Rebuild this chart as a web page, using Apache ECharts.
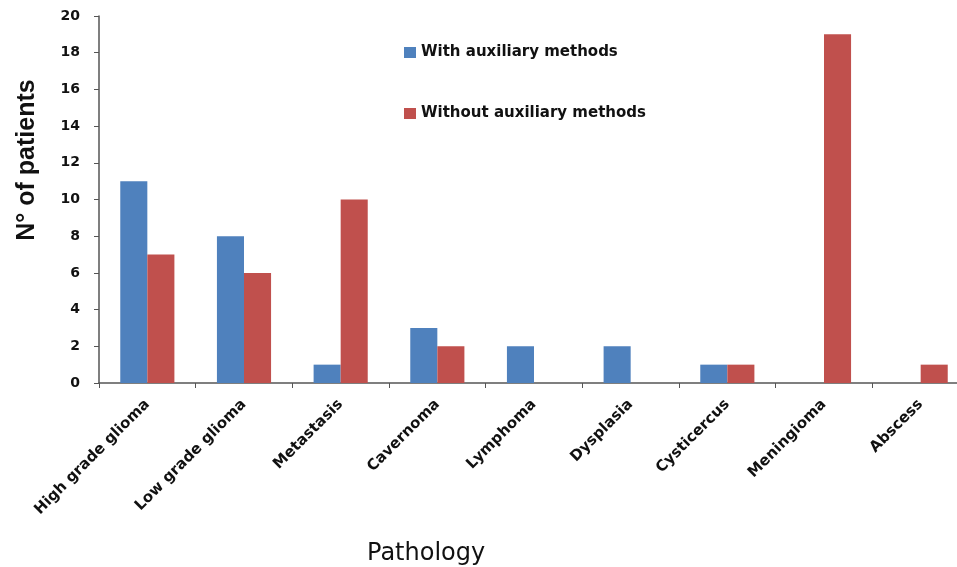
<!DOCTYPE html>
<html><head><meta charset="utf-8">
<script src="https://cdn.jsdelivr.net/npm/echarts@6/dist/echarts.min.js"></script>
<style>html,body{margin:0;padding:0;background:#fff;overflow:hidden}#c{width:969px;height:567px}</style>
</head><body><div id="c"></div>
<script>
const categories = ["High grade glioma","Low grade glioma","Metastasis","Cavernoma","Lymphoma","Dysplasia","Cysticercus","Meningioma","Abscess"];
const withAux = [11,8,1,3,2,2,1,0,0];
const withoutAux = [7,6,10,2,0,0,1,19,1];
const seriesNames = ["With auxiliary methods","Without auxiliary methods"];

const chart = echarts.init(document.getElementById('c'));
const dv = '"DejaVu Sans", sans-serif';
const lib = '"Liberation Sans", Arial, sans-serif';
chart.setOption({
  animation:false,
  backgroundColor:'#fff',
  textStyle:{fontFamily:dv},
  grid:{left:99,right:0,top:16,bottom:184,containLabel:false},
  legend:{orient:'vertical',left:404,top:45,padding:0,itemGap:46,itemWidth:12,itemHeight:11,icon:'rect',
    textStyle:{fontFamily:dv,fontWeight:'bold',fontSize:15,color:'#111'},data:seriesNames},
  title:{text:'Pathology',left:362,top:537,textStyle:{fontFamily:dv,fontWeight:'normal',fontSize:24,color:'#111'}},
  graphic:[{type:'text',x:27,y:160,rotation:Math.PI/2,
    style:{text:'N° of patients',fontFamily:lib,fontWeight:'bold',fontSize:25,fill:'#111',align:'center',verticalAlign:'middle'}}],
  xAxis:{type:'category',data:categories,
    axisLine:{lineStyle:{color:'#555',width:1.5}},
    axisTick:{show:true,length:5,lineStyle:{color:'#555'}},
    axisLabel:{rotate:45,margin:19,fontFamily:dv,fontWeight:'bold',fontSize:15,color:'#111',interval:0}},
  yAxis:{type:'value',min:0,max:20,interval:2,
    axisLine:{show:true,lineStyle:{color:'#555',width:1.5}},
    axisTick:{show:true,length:5,lineStyle:{color:'#555'}},
    splitLine:{show:false},
    axisLabel:{margin:19,fontFamily:dv,fontWeight:'bold',fontSize:14,color:'#111'}},
  series:[
    {name:seriesNames[0],type:'bar',data:withAux,barGap:'0%',barCategoryGap:'44%',itemStyle:{color:'#4F81BD'}},
    {name:seriesNames[1],type:'bar',data:withoutAux,barGap:'0%',barCategoryGap:'44%',itemStyle:{color:'#C0504D'}}
  ]
});
</script></body></html>
